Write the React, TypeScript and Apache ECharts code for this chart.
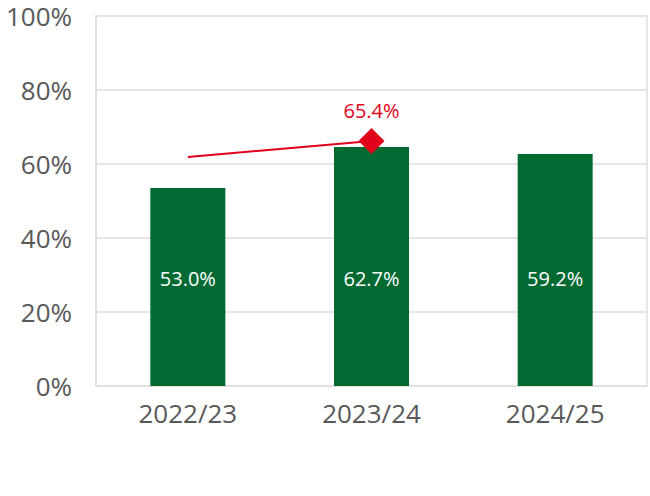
import React, { useEffect, useRef } from "react";
import * as echarts from "echarts";

const categories = ["2022/23", "2023/24", "2024/25"];
const barValues = [53.5, 64.6, 62.7];
const barLabels = ["53.0%", "62.7%", "59.2%"];
const lineValues = [61.9, 66.2, null];
const lineLabels = ["", "65.4%", ""];
const yTicks = [0, 20, 40, 60, 80, 100];

const FONT = "'Open Sans', 'Noto Sans', sans-serif";

export default function App() {
  const ref = useRef<HTMLDivElement>(null);
  useEffect(() => {
    if (!ref.current) return;
    const chart = echarts.init(ref.current, null, { renderer: "svg" });
    chart.setOption({
      animation: false,
      grid: {
        left: 96,
        top: 16,
        right: 3,
        bottom: 110,
        show: true,
        borderColor: "#e6e6e6",
        borderWidth: 2,
      },
      xAxis: {
        type: "category",
        data: categories,
        axisTick: { show: false },
        axisLine: { lineStyle: { color: "#e0e0e0", width: 2 } },
        axisLabel: { fontSize: 26, color: "#595959", fontFamily: FONT, margin: 14 },
      },
      yAxis: {
        type: "value",
        min: yTicks[0],
        max: yTicks[yTicks.length - 1],
        interval: 20,
        axisLine: { show: true, lineStyle: { color: "#e0e0e0", width: 2 } },
        splitLine: { lineStyle: { color: "#e6e6e6", width: 2 } },
        axisLabel: {
          fontSize: 26,
          color: "#595959",
          fontFamily: FONT,
          margin: 24,
          formatter: "{value}%",
        },
      },
      series: [
        {
          type: "bar",
          data: barValues.map((v, i) => ({
            value: v,
            label: { formatter: barLabels[i] },
          })),
          barWidth: 75,
          itemStyle: { color: "#006a32" },
          label: {
            show: true,
            position: "insideBottom",
            distance: 98,
            color: "#ffffff",
            fontSize: 20,
            fontFamily: FONT,
          },
        },
        {
          type: "line",
          data: lineValues.map((v, i) =>
            lineLabels[i]
              ? {
                  value: v,
                  symbol: "diamond",
                  symbolSize: 26,
                  label: {
                    show: true,
                    formatter: lineLabels[i],
                    position: "top",
                    distance: 8,
                    color: "#e2001a",
                    fontSize: 20,
                    fontFamily: FONT,
                  },
                }
              : { value: v, symbol: "none" }
          ),
          lineStyle: { color: "#e2001a", width: 2 },
          itemStyle: { color: "#e2001a" },
          z: 5,
        },
      ],
    });
    return () => chart.dispose();
  }, []);
  return (
    <div
      ref={ref}
      style={{ position: "absolute", left: 0, top: 0, width: 650, height: 496, background: "#fff" }}
    />
  );
}
